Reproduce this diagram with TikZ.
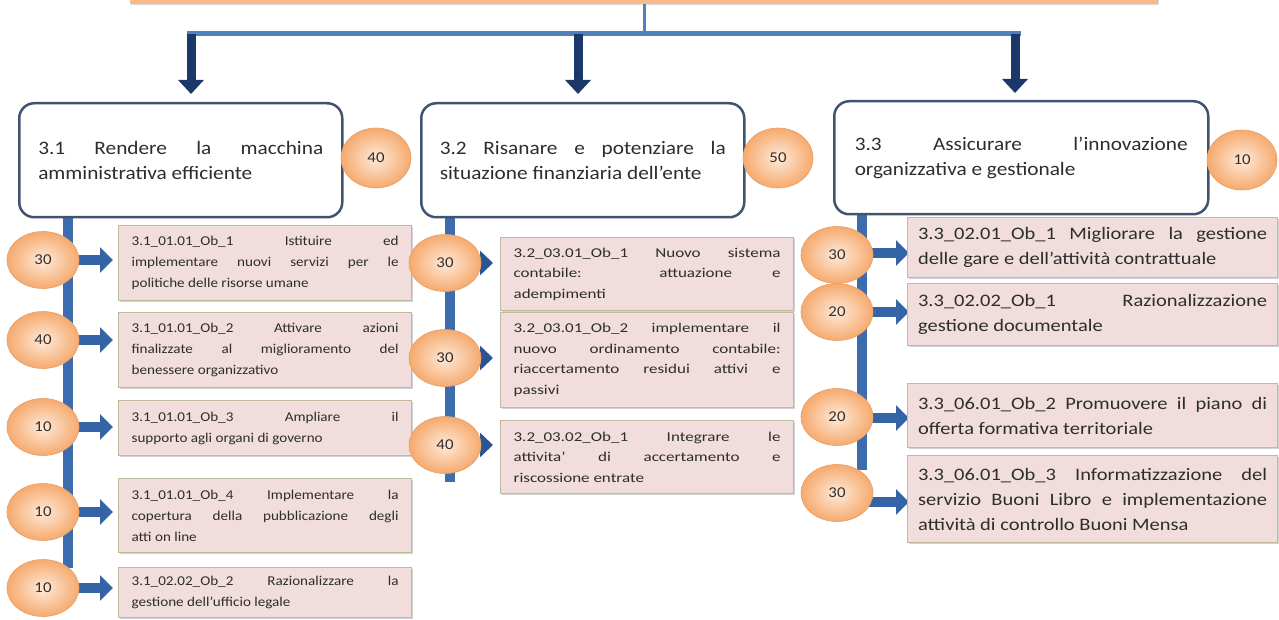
\documentclass[tikz,border=0pt]{standalone}
\usepackage{fontspec}
\setmainfont{Carlito}
\newfontfamily\fbig{Carlito}[FakeStretch=1.12]
\newfontfamily\fcola{Carlito}[FakeStretch=1.12]
\newfontfamily\fcolb{Carlito}[FakeStretch=1.26]
\newfontfamily\fcolc{Carlito}[FakeStretch=1.17]
\newfontfamily\fnum{Carlito}[FakeStretch=1.12]
\usetikzlibrary{arrows.meta,shapes.geometric,shadows,calc}
\pgfdeclarelayer{background}
\pgfsetlayers{background,main}
\definecolor{boxborder}{RGB}{65,84,111}
\definecolor{pinkf}{RGB}{241,222,220}
\definecolor{tanb}{RGB}{192,186,156}
\definecolor{orin}{RGB}{253,234,218}
\definecolor{orout}{RGB}{246,170,110}
\definecolor{orb}{RGB}{230,160,104}
\definecolor{barb}{RGB}{60,108,174}
\definecolor{arrb}{RGB}{52,99,166}
\definecolor{navy}{RGB}{28,56,104}
\definecolor{navytwo}{RGB}{44,84,148}
\definecolor{hlineblue}{RGB}{79,129,189}
\definecolor{topor}{RGB}{248,186,138}
\definecolor{txt}{RGB}{45,45,45}
\definecolor{numtxt}{RGB}{55,45,40}
\hyphenpenalty=10000
\exhyphenpenalty=10000
\tolerance=10000
\hbadness=10000
\begin{document}
\begin{tikzpicture}[x=1pt,y=-1pt,
  bigbox/.style={draw=boxborder, line width=2.5pt, rounded corners=15pt, fill=white,
    anchor=north west, align=justify, text=txt, font=\fbig\fontsize{19}{25}\selectfont},
  obox/.style={draw=tanb, line width=1.2pt, fill=pinkf, anchor=north west, align=justify,
    text=txt, drop shadow={shadow xshift=1.5pt, shadow yshift=-1.5pt, opacity=0.35}},
  cabox/.style={obox, minimum width=293pt, text width=267pt, font=\fcola\fontsize{13.5}{21}\selectfont},
  cbbox/.style={obox, minimum width=293pt, text width=267pt, font=\fcolb\fontsize{13.5}{20.5}\selectfont},
  ccbox/.style={obox, minimum width=370pt, text width=349pt, font=\fcolc\fontsize{17.5}{25}\selectfont},
  num/.style={ellipse, minimum width=72pt, minimum height=57pt, inner sep=0pt, draw=orb,
    line width=0.6pt, inner color=orin, outer color=orout, text=numtxt,
    font=\fnum\fontsize{15}{15}\selectfont},
  bignum/.style={num, minimum width=70pt, minimum height=60pt},
  rarrow/.style={line width=10pt, draw=arrb, -{Triangle[width=25pt,length=13pt]}},
  tarrow/.style={line width=4pt, draw=navytwo, -{Triangle[width=24pt,length=13pt]}},
  darrow/.style={line width=9pt, draw=navy, -{Triangle[width=25pt,length=14pt]}},
  bar/.style={line width=10pt, draw=barb},
  hline/.style={line width=5pt, draw=hlineblue},
  topbar/.style={rectangle, fill=topor, draw=none, anchor=south west, minimum width=1028pt,
    minimum height=40pt, drop shadow={shadow xshift=1pt, shadow yshift=-1.5pt, opacity=0.3}}
]
\useasboundingbox (0,0) rectangle (1279,620);
\clip (0,0) rectangle (1279,620);

% top title bar (cut off)
\node[topbar] (top) at (130,4) {};

% big boxes
\node[bigbox, minimum width=323pt, minimum height=114pt, text width=285pt] (big1) at (18,102)
  {3.1 Rendere la macchina\linebreak amministrativa efficiente};
\node[bigbox, minimum width=323pt, minimum height=114pt, text width=286pt] (big2) at (420,102)
  {3.2 Risanare e potenziare la\linebreak situazione finanziaria dell’ente};
\node[bigbox, minimum width=374pt, minimum height=113pt, text width=333pt] (big3) at (833,100)
  {3.3 Assicurare l’innovazione\linebreak organizzativa e gestionale};

\node[bignum] (n1) at (376,158) {40};
\node[bignum] (n2) at (778,158) {50};
\node[bignum] (n3) at (1242,160) {10};

% column 1
\node[cabox, minimum height=75pt] (b11) at (118,225)
  {3.1\_01.01\_Ob\_1 Istituire ed\linebreak implementare nuovi servizi per le\linebreak politiche delle risorse umane};
\node[cabox, minimum height=75pt] (b12) at (118,312)
  {3.1\_01.01\_Ob\_2 Attivare azioni\linebreak finalizzate al miglioramento del\linebreak benessere organizzativo};
\node[cabox, minimum height=55pt] (b13) at (118,400)
  {3.1\_01.01\_Ob\_3 Ampliare il\linebreak supporto agli organi di governo};
\node[cabox, minimum height=74pt] (b14) at (118,478)
  {3.1\_01.01\_Ob\_4 Implementare la\linebreak copertura della pubblicazione degli\linebreak atti on line};
\node[cabox, minimum height=50pt] (b15) at (118,567)
  {3.1\_02.02\_Ob\_2 Razionalizzare la\linebreak gestione dell’ufficio legale};

\node[num] (c11) at (43,260) {30};
\node[num] (c12) at (43,340) {40};
\node[num] (c13) at (43,427) {10};
\node[num] (c14) at (43,512) {10};
\node[num] (c15) at (43,588) {10};

% column 2
\node[cbbox, minimum height=73pt] (b21) at (500,237)
  {3.2\_03.01\_Ob\_1 Nuovo sistema\linebreak contabile: attuazione e\linebreak adempimenti};
\node[cbbox, minimum height=95pt] (b22) at (500,312)
  {3.2\_03.01\_Ob\_2 implementare il\linebreak nuovo ordinamento contabile:\linebreak riaccertamento residui attivi e\linebreak passivi};
\node[cbbox, minimum height=73pt] (b23) at (500,420)
  {3.2\_03.02\_Ob\_1 Integrare le\linebreak attivita’ di accertamento e\linebreak riscossione entrate};

\node[num] (c21) at (445,263) {30};
\node[num] (c22) at (445,358) {30};
\node[num] (c23) at (445,445) {40};

% column 3
\node[ccbox, minimum height=60pt] (b31) at (907,217)
  {3.3\_02.01\_Ob\_1 Migliorare la gestione\linebreak delle gare e dell’attività contrattuale};
\node[ccbox, minimum height=62pt] (b32) at (907,283)
  {3.3\_02.02\_Ob\_1 Razionalizzazione\linebreak gestione documentale};
\node[ccbox, minimum height=64pt] (b33) at (907,383)
  {3.3\_06.01\_Ob\_2 Promuovere il piano di\linebreak offerta formativa territoriale};
\node[ccbox, minimum height=87pt] (b34) at (907,455)
  {3.3\_06.01\_Ob\_3 Informatizzazione del\linebreak servizio Buoni Libro e implementazione\linebreak attività di controllo Buoni Mensa};

\node[num] (c31) at (837,255) {30};
\node[num] (c32) at (837,312) {20};
\node[num] (c33) at (837,417) {20};
\node[num] (c34) at (837,493) {30};

% connectors on background
\coordinate (hm) at (644,34);
\coordinate (hl) at (187,34);
\coordinate (hr) at (1021,34);
\coordinate (d1) at (191,34);
\coordinate (d2) at (578,34);
\coordinate (d3) at (1015,34);
\coordinate (t1) at (68,568);
\coordinate (t2) at (450,482);
\coordinate (t3) at (862,470);
\begin{pgfonlayer}{background}
  \draw[line width=3pt, draw=hlineblue] (hm |- top.south) -- (hm);
  \draw[hline] (hl) -- (hr);
  \draw[darrow, shorten >=8pt] (d1) -- (d1 |- big1.north);
  \draw[darrow, shorten >=8pt] (d2) -- (d2 |- big2.north);
  \draw[darrow, shorten >=7pt] (d3) -- (d3 |- big3.north);

  \draw[bar] (t1 |- big1.south) -- (t1);
  \draw[bar] (t2 |- big2.south) -- (t2);
  \draw[bar] (t3 |- big3.south) -- (t3);

  \draw[rarrow, shorten >=5pt] (c11.center) -- (c11.center -| b11.west);
  \draw[rarrow, shorten >=5pt] (c12.center) -- (c12.center -| b12.west);
  \draw[rarrow, shorten >=5pt] (c13.center) -- (c13.center -| b13.west);
  \draw[rarrow, shorten >=5pt] (c14.center) -- (c14.center -| b14.west);
  \draw[rarrow, shorten >=5pt] (c15.center) -- (c15.center -| b15.west);

  \draw[tarrow, shorten >=7pt] (c21.center) -- (c21.center -| b21.west);
  \draw[tarrow, shorten >=7pt] (c22.center) -- (c22.center -| b22.west);
  \draw[tarrow, shorten >=7pt] (c23.center) -- (c23.center -| b23.west);

  \draw[rarrow, shorten >=-2pt] ([yshift=2pt]c31.center) -- ([yshift=2pt]c31.center -| b31.west);
  \draw[rarrow, shorten >=-2pt] (c32.center) -- (c32.center -| b32.west);
  \draw[rarrow, shorten >=-2pt] ([yshift=-1pt]c33.center) -- ([yshift=-1pt]c33.center -| b33.west);
  \draw[rarrow, shorten >=-2pt] ([yshift=-9pt]c34.center) -- ([yshift=-9pt]c34.center -| b34.west);
\end{pgfonlayer}
\end{tikzpicture}
\end{document}
